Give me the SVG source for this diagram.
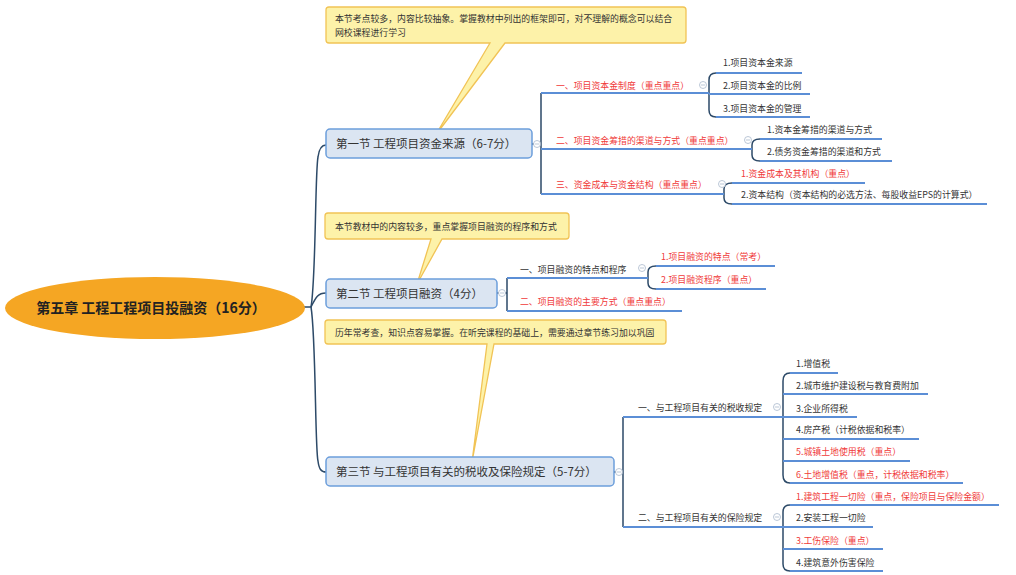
<svg xmlns="http://www.w3.org/2000/svg" width="1016" height="575" viewBox="0 0 1016 575">
<style>
text{font-family:"Noto Sans CJK SC","Microsoft YaHei","Noto Sans",sans-serif;}
.t{font-size:8.9px;fill:#333;}
.r{fill:#f03a3a;}
.sec rect{fill:#dbe5f2;stroke:#6c9edb;stroke-width:1.5;}
.sec text{font-size:11.5px;fill:#333;}
.ul{stroke:#5b8ed6;stroke-width:2;fill:none;}
.cn{stroke:#2d4a68;stroke-width:1.5;fill:none;}
.call path{fill:#fdf2a9;stroke:#f1c355;stroke-width:1.3;}
.btn circle{fill:#fff;stroke:#a9b9cc;stroke-width:0.8;}
.btn path{stroke:#a9b9cc;stroke-width:0.8;}
</style>
<rect width="1016" height="575" fill="#fff"/>

<g id="connectors" class="cn">
<path d="M303,307 H311 C316,280 315,172 318,157 C319,149 321,145 326,145"/>
<path d="M311,307 C316,297 318,293 326,293"/>
<path d="M311,307 C316,336 315,450 318,461 C319,469 321,472 326,472"/>
<path d="M532,144 H541 M541,93 V194"/>
<path d="M716,73 Q709,73 709,80 V110 Q709,117 716,117"/>
<path d="M760,139 Q752,139 752,145 V155 Q752,161 760,161"/>
<path d="M732,183 Q724,183 724,189 V198 Q724,204 732,204"/>
<path d="M497,293 H507 M507,278 V311"/>
<path d="M656,266 Q648,266 648,272 V283 Q648,289 656,289"/>
<path d="M614,472 H623 M623,417 V527"/>
<path d="M790,373 Q783,373 783,381 V475 Q783,483 790,483"/>
<path d="M790,505 Q783,505 783,512 V564 Q783,571 790,571"/>
</g>

<g id="root">
<ellipse cx="155" cy="308" rx="150" ry="31" fill="#f5a623"/>
<text x="151" y="313" text-anchor="middle" font-size="14" font-weight="bold" fill="#222">第五章 工程工程项目投融资（16分）</text>
</g>

<g id="callout1" class="call">
<path d="M329,7 H683 Q686,7 686,10 V40 Q686,43 683,43 H505 L435,136 L490,43 H329 Q326,43 326,40 V10 Q326,7 329,7 Z"/>
<text class="t" x="335" y="22">本节考点较多，内容比较抽象。掌握教材中列出的框架即可，对不理解的概念可以结合</text>
<text class="t" x="335" y="36">网校课程进行学习</text>
</g>
<g id="callout2" class="call">
<path d="M328,213 H566 Q569,213 569,216 V236 Q569,239 566,239 H442 L417,284 L431,239 H328 Q325,239 325,236 V216 Q325,213 328,213 Z"/>
<text class="t" x="335" y="229.5">本节教材中的内容较多，重点掌握项目融资的程序和方式</text>
</g>
<g id="callout3" class="call">
<path d="M328,320 H663 Q666,320 666,323 V341 Q666,344 663,344 H494 L472,462 L487,344 H328 Q325,344 325,341 V323 Q325,320 328,320 Z"/>
<text class="t" x="335" y="336">历年常考查，知识点容易掌握。在听完课程的基础上，需要通过章节练习加以巩固</text>
</g>

<g id="s1" class="sec">
<rect x="326" y="129" width="206" height="29" rx="4"/>
<text x="336" y="148">第一节 工程项目资金来源（6-7分）</text>
</g>
<g id="s2" class="sec">
<rect x="326" y="279" width="171" height="29" rx="4"/>
<text x="336" y="298">第二节 工程项目融资（4分）</text>
</g>
<g id="s3" class="sec">
<rect x="326" y="457" width="288" height="29" rx="4"/>
<text x="336" y="476">第三节 与工程项目有关的税收及保险规定（5-7分）</text>
</g>

<g id="s1a"><path class="ul" d="M541,93 H709"/><text class="t r" x="556" y="89.2">一、项目资本金制度（重点重点）</text></g>
<g id="s1b"><path class="ul" d="M541,149 H752"/><text class="t r" x="556" y="144.2">二、项目资金筹措的渠道与方式（重点重点）</text></g>
<g id="s1c"><path class="ul" d="M541,194 H724"/><text class="t r" x="556" y="188.2">三、资金成本与资金结构（重点重点）</text></g>

<g id="s1a1"><path class="ul" d="M716,73 H802"/><text class="t" x="723" y="66.2">1.项目资本金来源</text></g>
<g id="s1a2"><path class="ul" d="M709,94 H810"/><text class="t" x="723" y="89.2">2.项目资本金的比例</text></g>
<g id="s1a3"><path class="ul" d="M716,117 H810"/><text class="t" x="723" y="112.2">3.项目资本金的管理</text></g>
<g id="s1b1"><path class="ul" d="M760,139 H882"/><text class="t" x="767" y="133.2">1.资本金筹措的渠道与方式</text></g>
<g id="s1b2"><path class="ul" d="M760,161 H892"/><text class="t" x="767" y="155.2">2.债务资金筹措的渠道和方式</text></g>
<g id="s1c1"><path class="ul" d="M732,183 H865"/><text class="t r" x="741" y="177.2">1.资金成本及其机构（重点）</text></g>
<g id="s1c2"><path class="ul" d="M732,204 H987"/><text class="t" x="741" y="198.2">2.资本结构（资本结构的必选方法、每股收益EPS的计算式）</text></g>

<g id="s2a"><path class="ul" d="M507,278 H648"/><text class="t" x="520" y="273.2">一、项目融资的特点和程序</text></g>
<g id="s2b"><path class="ul" d="M507,311 H682"/><text class="t r" x="520" y="305.2">二、项目融资的主要方式（重点重点）</text></g>
<g id="s2a1"><path class="ul" d="M656,266 H775"/><text class="t r" x="661" y="260.2">1.项目融资的特点（常考）</text></g>
<g id="s2a2"><path class="ul" d="M656,289 H766"/><text class="t r" x="661" y="283.2">2.项目融资程序（重点）</text></g>

<g id="s3a"><path class="ul" d="M623,417 H783"/><text class="t" x="638" y="411.2">一、与工程项目有关的税收规定</text></g>
<g id="s3b"><path class="ul" d="M623,527 H783"/><text class="t" x="638" y="521.2">二、与工程项目有关的保险规定</text></g>
<g id="s3a1"><path class="ul" d="M790,373 H838"/><text class="t" x="796" y="367.2">1.增值税</text></g>
<g id="s3a2"><path class="ul" d="M783,394 H928"/><text class="t" x="796" y="389.2">2.城市维护建设税与教育费附加</text></g>
<g id="s3a3"><path class="ul" d="M783,417 H857"/><text class="t" x="796" y="412.2">3.企业所得税</text></g>
<g id="s3a4"><path class="ul" d="M783,439 H919"/><text class="t" x="796" y="433.2">4.房产税（计税依据和税率）</text></g>
<g id="s3a5"><path class="ul" d="M783,461 H910"/><text class="t r" x="796" y="455.2">5.城镇土地使用税（重点）</text></g>
<g id="s3a6"><path class="ul" d="M790,483 H963"/><text class="t r" x="796" y="478.2">6.土地增值税（重点，计税依据和税率）</text></g>
<g id="s3b1"><path class="ul" d="M790,505 H999"/><text class="t r" x="796" y="500.2">1.建筑工程一切险（重点，保险项目与保险金额）</text></g>
<g id="s3b2"><path class="ul" d="M783,527 H873"/><text class="t" x="796" y="521.2">2.安装工程一切险</text></g>
<g id="s3b3"><path class="ul" d="M783,549 H883"/><text class="t r" x="796" y="544.2">3.工伤保险（重点）</text></g>
<g id="s3b4"><path class="ul" d="M790,571 H883"/><text class="t" x="796" y="566.2">4.建筑意外伤害保险</text></g>

<g id="buttons" class="btn">
<circle cx="537" cy="144" r="3.5"/><path d="M535,144 H539"/>
<circle cx="502" cy="293" r="3.5"/><path d="M500,293 H504"/>
<circle cx="619" cy="472" r="3.5"/><path d="M617,472 H621"/>
<circle cx="703" cy="85" r="3.5"/><path d="M701,85 H705"/>
<circle cx="748" cy="140" r="3.5"/><path d="M746,140 H750"/>
<circle cx="722" cy="184" r="3.5"/><path d="M720,184 H724"/>
<circle cx="642" cy="268" r="3.5"/><path d="M640,268 H644"/>
<circle cx="777" cy="407" r="3.5"/><path d="M775,407 H779"/>
<circle cx="777" cy="517" r="3.5"/><path d="M775,517 H779"/>
</g>
</svg>
